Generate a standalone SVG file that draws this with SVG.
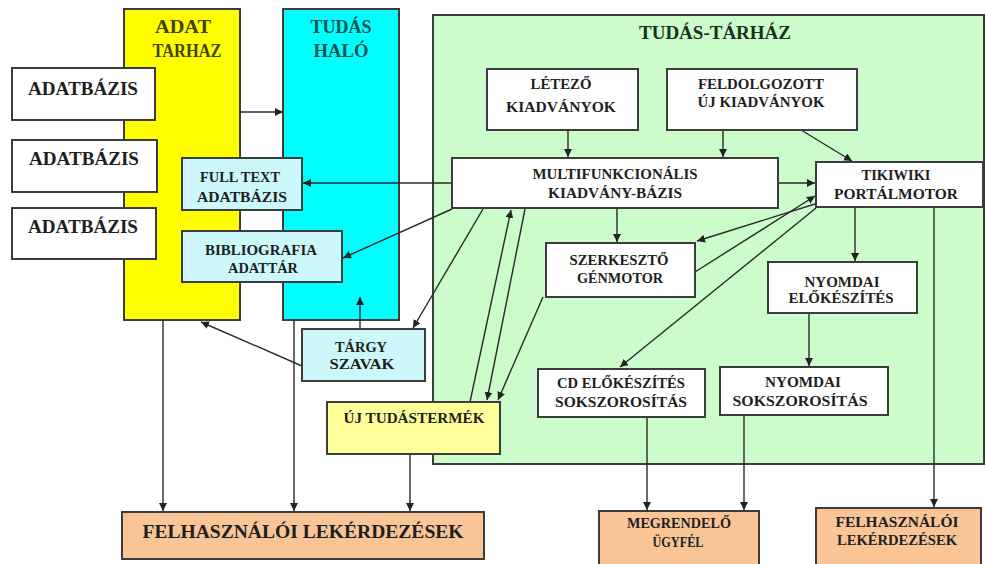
<svg xmlns="http://www.w3.org/2000/svg" width="986" height="564" viewBox="0 0 986 564">
  <defs>
    <marker id="arr" viewBox="0 0 8 8" refX="8" refY="4" markerWidth="8" markerHeight="8" markerUnits="userSpaceOnUse" orient="auto">
      <path d="M0,0 L8,4 L0,8 z" fill="#222"/>
    </marker>
    <style>
      .box { stroke: #3c3c3c; stroke-width: 2; }
      .white { fill: #ffffff; }
      .sub { fill: #ccf8fb; }
      .peach { fill: #f9c597; }
      .lbl { font-family: "Liberation Serif", "Times New Roman", serif; font-weight: bold; font-size: 14px; fill: #1e1e1e; text-anchor: middle; }
      .big { font-size: 18px; }
      .con line { stroke: #2a2a2a; stroke-width: 1.4; fill: none; marker-end: url(#arr); }
    </style>
  </defs>

  <rect width="986" height="564" fill="#ffffff"/>

  <!-- large containers -->
  <g id="adat-tarhaz">
    <rect class="box" x="124" y="9" width="116" height="311" fill="#ffff00"/>
    <text class="lbl big" x="183" y="33" style="fill:#434305" textLength="56" lengthAdjust="spacingAndGlyphs">ADAT</text>
    <text class="lbl big" x="187" y="57" style="fill:#434305" textLength="69" lengthAdjust="spacingAndGlyphs">TARHAZ</text>
  </g>
  <g id="tudas-halo">
    <rect class="box" x="283" y="9" width="116" height="311" fill="#00ffff"/>
    <text class="lbl big" x="341" y="33" style="fill:#175050" textLength="61" lengthAdjust="spacingAndGlyphs">TUDÁS</text>
    <text class="lbl big" x="341" y="57" style="fill:#175050" textLength="55" lengthAdjust="spacingAndGlyphs">HALÓ</text>
  </g>
  <g id="tudas-tarhaz">
    <rect class="box" x="433" y="15" width="551" height="449" fill="#ccfccc"/>
    <text class="lbl big" x="715" y="39" style="fill:#1c2e1c" textLength="152" lengthAdjust="spacingAndGlyphs">TUDÁS-TÁRHÁZ</text>
  </g>

  <!-- connectors -->
  <g id="connectors" class="con">
    <line x1="240" y1="112" x2="283" y2="112"/>
    <line x1="452" y1="183" x2="303" y2="183"/>
    <line x1="452" y1="209" x2="343" y2="258"/>
    <line x1="483" y1="209" x2="413" y2="328"/>
    <line x1="360" y1="329" x2="360" y2="297"/>
    <line x1="302" y1="366" x2="201" y2="322"/>
    <line x1="470" y1="402" x2="511" y2="210"/>
    <line x1="525" y1="209" x2="487" y2="400"/>
    <line x1="543" y1="297" x2="498" y2="400"/>
    <line x1="568" y1="130" x2="568" y2="157"/>
    <line x1="723" y1="130" x2="723" y2="157"/>
    <line x1="801" y1="130" x2="852" y2="161"/>
    <line x1="778" y1="183" x2="815" y2="183"/>
    <line x1="617" y1="209" x2="617" y2="242"/>
    <line x1="695" y1="272" x2="815" y2="196"/>
    <line x1="815" y1="204" x2="697" y2="241"/>
    <line x1="816" y1="208" x2="620" y2="367"/>
    <line x1="855" y1="208" x2="855" y2="261"/>
    <line x1="809" y1="313" x2="809" y2="366"/>
    <line x1="934" y1="208" x2="934" y2="507"/>
    <line x1="647" y1="417" x2="647" y2="510"/>
    <line x1="744" y1="415" x2="744" y2="510"/>
    <line x1="163" y1="320" x2="163" y2="511"/>
    <line x1="294" y1="320" x2="294" y2="511"/>
    <line x1="410" y1="454" x2="410" y2="511"/>
  </g>

  <!-- data sources -->
  <g id="adatbazis-1">
    <rect class="box white" x="12" y="68" width="143" height="52"/>
    <text class="lbl big" x="83" y="95" textLength="110" lengthAdjust="spacingAndGlyphs">ADATBÁZIS</text>
  </g>
  <g id="adatbazis-2">
    <rect class="box white" x="12" y="140" width="145" height="52"/>
    <text class="lbl big" x="84" y="165" textLength="110" lengthAdjust="spacingAndGlyphs">ADATBÁZIS</text>
  </g>
  <g id="adatbazis-3">
    <rect class="box white" x="12" y="208" width="144" height="51"/>
    <text class="lbl big" x="83" y="233" textLength="110" lengthAdjust="spacingAndGlyphs">ADATBÁZIS</text>
  </g>

  <g id="full-text">
    <rect class="box sub" x="182" y="158" width="120" height="52"/>
    <text class="lbl" x="240" y="182" textLength="80" lengthAdjust="spacingAndGlyphs">FULL TEXT</text>
    <text class="lbl" x="242" y="202" textLength="90" lengthAdjust="spacingAndGlyphs">ADATBÁZIS</text>
  </g>
  <g id="bibliografia">
    <rect class="box sub" x="182" y="231" width="160" height="51"/>
    <text class="lbl" x="261" y="255" textLength="112" lengthAdjust="spacingAndGlyphs">BIBLIOGRAFIA</text>
    <text class="lbl" x="263" y="273" textLength="70" lengthAdjust="spacingAndGlyphs">ADATTÁR</text>
  </g>
  <g id="targy-szavak">
    <rect class="box sub" x="302" y="329" width="123" height="52"/>
    <text class="lbl" x="361" y="352" textLength="52" lengthAdjust="spacingAndGlyphs">TÁRGY</text>
    <text class="lbl" x="362" y="369" textLength="65" lengthAdjust="spacingAndGlyphs">SZAVAK</text>
  </g>
  <g id="uj-tudastermek">
    <rect class="box" x="327" y="402" width="173" height="52" fill="#ffff99"/>
    <text class="lbl" x="414" y="423" textLength="141" lengthAdjust="spacingAndGlyphs">ÚJ  TUDÁSTERMÉK</text>
  </g>

  <!-- publishing store -->
  <g id="letezo">
    <rect class="box white" x="487" y="69" width="151" height="61"/>
    <text class="lbl" x="561" y="89" textLength="61" lengthAdjust="spacingAndGlyphs">LÉTEZŐ</text>
    <text class="lbl" x="561" y="112" textLength="110" lengthAdjust="spacingAndGlyphs">KIADVÁNYOK</text>
  </g>
  <g id="feldolgozott">
    <rect class="box white" x="667" y="69" width="190" height="61"/>
    <text class="lbl" x="761" y="89" textLength="126" lengthAdjust="spacingAndGlyphs">FELDOLGOZOTT</text>
    <text class="lbl" x="761" y="107" textLength="127" lengthAdjust="spacingAndGlyphs">ÚJ KIADVÁNYOK</text>
  </g>
  <g id="multifunkcionalis">
    <rect class="box white" x="452" y="158" width="326" height="50"/>
    <text class="lbl" x="615" y="179" textLength="165" lengthAdjust="spacingAndGlyphs">MULTIFUNKCIONÁLIS</text>
    <text class="lbl" x="615" y="198" textLength="134" lengthAdjust="spacingAndGlyphs">KIADVÁNY-BÁZIS</text>
  </g>
  <g id="tikiwiki">
    <rect class="box white" x="816" y="162" width="167" height="45"/>
    <text class="lbl" x="896" y="180" textLength="69" lengthAdjust="spacingAndGlyphs">TIKIWIKI</text>
    <text class="lbl" x="896" y="199" textLength="124" lengthAdjust="spacingAndGlyphs">PORTÁLMOTOR</text>
  </g>
  <g id="szerkeszto">
    <rect class="box white" x="546" y="243" width="149" height="54"/>
    <text class="lbl" x="619" y="265" textLength="99" lengthAdjust="spacingAndGlyphs">SZERKESZTŐ</text>
    <text class="lbl" x="620" y="283" textLength="86" lengthAdjust="spacingAndGlyphs">GÉNMOTOR</text>
  </g>
  <g id="nyomdai-elokeszites">
    <rect class="box white" x="768" y="262" width="149" height="51"/>
    <text class="lbl" x="842" y="287" textLength="75" lengthAdjust="spacingAndGlyphs">NYOMDAI</text>
    <text class="lbl" x="841" y="303" textLength="105" lengthAdjust="spacingAndGlyphs">ELŐKÉSZÍTÉS</text>
  </g>
  <g id="cd-elokeszites">
    <rect class="box white" x="538" y="369" width="167" height="48"/>
    <text class="lbl" x="621" y="388" textLength="128" lengthAdjust="spacingAndGlyphs">CD ELŐKÉSZÍTÉS</text>
    <text class="lbl" x="621" y="407" textLength="132" lengthAdjust="spacingAndGlyphs">SOKSZOROSÍTÁS</text>
  </g>
  <g id="nyomdai-sokszorositas">
    <rect class="box white" x="720" y="367" width="168" height="48"/>
    <text class="lbl" x="803" y="387" textLength="76" lengthAdjust="spacingAndGlyphs">NYOMDAI</text>
    <text class="lbl" x="800" y="406" textLength="135" lengthAdjust="spacingAndGlyphs">SOKSZOROSÍTÁS</text>
  </g>

  <!-- outputs -->
  <g id="felhasznaloi-lekerdezesek">
    <rect class="box peach" x="122" y="512" width="362" height="47"/>
    <text class="lbl big" x="303" y="538" textLength="321" lengthAdjust="spacingAndGlyphs">FELHASZNÁLÓI  LEKÉRDEZÉSEK</text>
  </g>
  <g id="megrendelo">
    <rect class="box peach" x="599" y="511" width="160" height="55"/>
    <text class="lbl" x="679" y="528" textLength="104" lengthAdjust="spacingAndGlyphs">MEGRENDELŐ</text>
    <text class="lbl" x="678" y="547" textLength="51" lengthAdjust="spacingAndGlyphs">ÜGYFÉL</text>
  </g>
  <g id="felhasznaloi-2">
    <rect class="box peach" x="816" y="508" width="165" height="58"/>
    <text class="lbl" x="897" y="527" textLength="123" lengthAdjust="spacingAndGlyphs">FELHASZNÁLÓI</text>
    <text class="lbl" x="897" y="545" textLength="120" lengthAdjust="spacingAndGlyphs">LEKÉRDEZÉSEK</text>
  </g>
</svg>
